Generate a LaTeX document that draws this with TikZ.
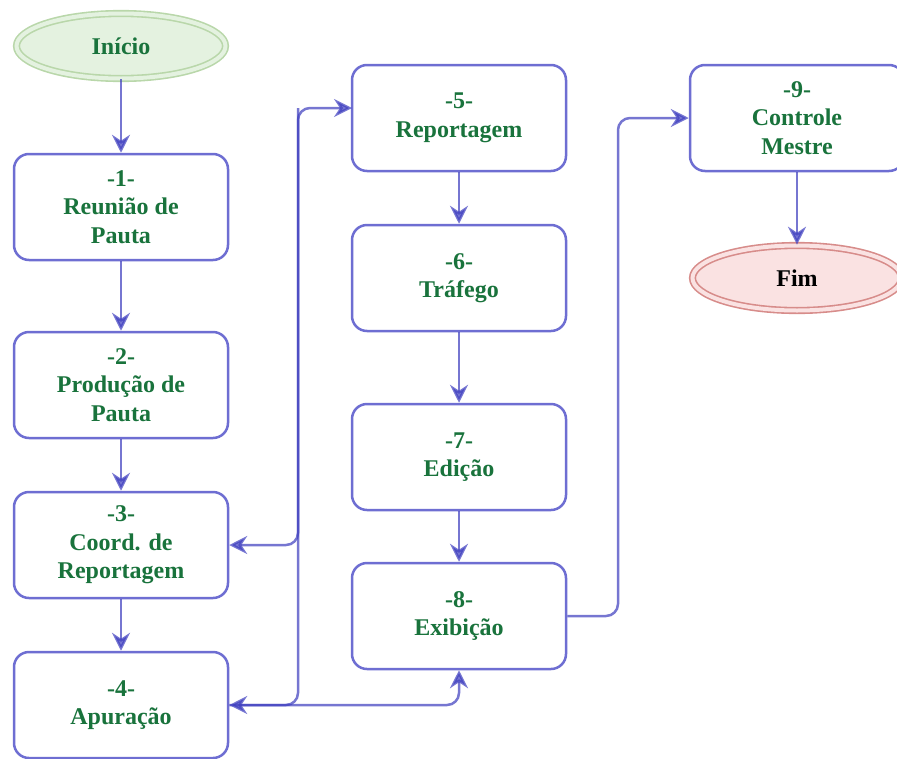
\documentclass[tikz,border=0pt]{standalone}
\usepackage{fontspec}
\setmainfont{Liberation Serif}
\usetikzlibrary{arrows.meta,shapes.geometric}
\definecolor{txtgreen}{RGB}{25,115,60}
\definecolor{boxblue}{RGB}{110,110,210}
\definecolor{linkblue}{RGB}{60,60,190}
\definecolor{startfill}{RGB}{228,242,224}
\definecolor{startdraw}{RGB}{185,215,170}
\definecolor{endfill}{RGB}{250,226,226}
\definecolor{enddraw}{RGB}{215,140,138}
\begin{document}
\begin{tikzpicture}[x=1pt,y=-1pt,
  stepbox/.style={draw=boxblue, line width=2.5pt, rounded corners=15pt, fill=white,
    minimum width=214pt, minimum height=106pt, align=center,
    font=\bfseries\fontsize{24}{28.5}\selectfont, text=txtgreen},
  terminal/.style={ellipse, line width=1.6pt, double distance=4pt,
    minimum width=209pt, minimum height=65pt, inner sep=0pt,
    font=\bfseries\fontsize{24}{28.5}\selectfont},
  link/.style={draw=linkblue, opacity=0.7, line width=2.5pt, rounded corners=12pt},
  tip/.style={-{Stealth[length=18pt,width=18pt,inset=6pt,fill=linkblue]}},
  tips/.style={{Stealth[length=18pt,width=18pt,inset=6pt,fill=linkblue]}-{Stealth[length=18pt,width=18pt,inset=6pt,fill=linkblue]}}
]
\useasboundingbox (0,0) rectangle (897,758);
\clip (0,0) rectangle (897,758);

% nodes
\node[terminal, draw=startdraw, double=startfill, fill=startfill, text=txtgreen] (ini) at (121,46) {Início};
\node[stepbox] (n1) at (121,207) {-1-\\Reunião de\\Pauta};
\node[stepbox] (n2) at (121,385) {-2-\\Produção de\\Pauta};
\node[stepbox] (n3) at (121,545) {-3-\\Coord. de\\Reportagem};
\node[stepbox] (n4) at (121,705) {-4-\\Apuração};
\node[stepbox] (n5) at (459,118) {-5-\\Reportagem};
\node[stepbox] (n6) at (459,278) {-6-\\Tráfego};
\node[stepbox] (n7) at (459,457) {-7-\\Edição};
\node[stepbox] (n8) at (459,616) {-8-\\Exibição};
\node[stepbox] (n9) at (797,118) {-9-\\Controle\\Mestre};
\node[terminal, draw=enddraw, double=endfill, fill=endfill, text=black] (fim) at (797,278) {Fim};

% helper coordinates
\coordinate (a5) at (298,108);
\coordinate (a3) at (298,545);
\coordinate (a4) at (298,705);
\coordinate (in5) at (352,108);
\coordinate (b8) at (618,616);

% straight connectors
\draw[link, tip] (ini) -- (n1);
\draw[link, tip] (n1) -- (n2);
\draw[link, tip] (n2) -- (n3);
\draw[link, tip] (n3) -- (n4);
\draw[link, tip] (n5) -- (n6);
\draw[link, tip] (n6) -- (n7);
\draw[link, tip] (n7) -- (n8);
\draw[link, tip] (n9) -- (fim);

% routed connectors
\draw[link, tip] (n4.east) -- (a4) -- (a5) -- (in5);
\draw[link, tip] (a5) -- (a3) -- (n3.east);
\draw[link, tips] (n4.east) -| (n8.south);
\draw[link, tip] (n8.east) -- (b8) |- (n9.west);
\end{tikzpicture}
\end{document}
